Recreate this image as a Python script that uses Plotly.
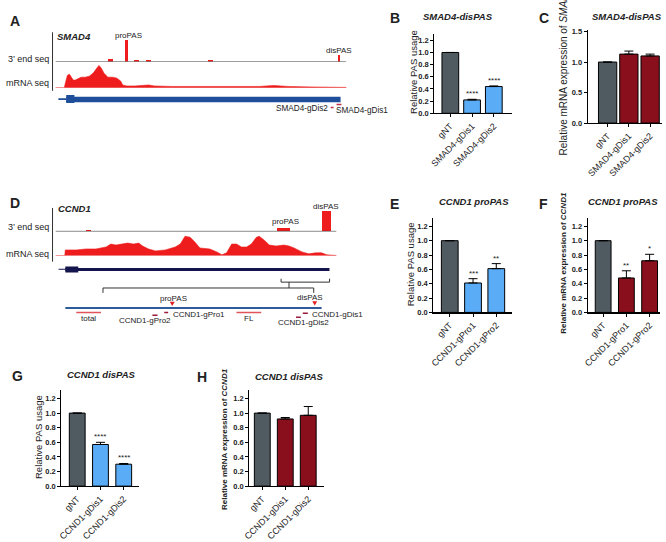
import plotly.graph_objects as go

W, H = 666, 542
def fx(p): return p / W
def fy(p): return 1 - p / H

FONT = "Liberation Sans, Arial, sans-serif"
GRAY = "#4f5b61"
BLUE = "#5aacf7"
DRED = "#8a0f1c"
TRACK = "#ee1c1c"

# ---------------- bar chart data ----------------
b_labels = ["gNT", "SMAD4-gDis1", "SMAD4-gDis2"]
b_vals = [1.0, 0.22, 0.44]
b_err = [0.0, 0.01, 0.01]
b_stars = ["", "****", "****"]

c_labels = ["gNT", "SMAD4-gDis1", "SMAD4-gDis2"]
c_vals = [1.0, 1.13, 1.10]
c_err = [0.0, 0.05, 0.03]
c_stars = ["", "", ""]

e_labels = ["gNT", "CCND1-gPro1", "CCND1-gPro2"]
e_vals = [1.0, 0.41, 0.61]
e_err = [0.0, 0.06, 0.07]
e_stars = ["", "***", "**"]

f_labels = ["gNT", "CCND1-gPro1", "CCND1-gPro2"]
f_vals = [1.0, 0.48, 0.72]
f_err = [0.0, 0.10, 0.09]
f_stars = ["", "**", "*"]

g_labels = ["gNT", "CCND1-gDis1", "CCND1-gDis2"]
g_vals = [1.0, 0.57, 0.30]
g_err = [0.0, 0.03, 0.01]
g_stars = ["", "****", "****"]

h_labels = ["gNT", "CCND1-gDis1", "CCND1-gDis2"]
h_vals = [1.0, 0.92, 0.97]
h_err = [0.0, 0.02, 0.12]
h_stars = ["", "", ""]

# ---------------- genome track data (relative genomic position 0-100) ----------------
smad4_peak_pos = [18.9, 24.3, 28.0, 32.1, 53.2, 97.6]
smad4_peak_w = [1.7, 1.0, 1.7, 1.7, 1.7, 0.7]
smad4_peak_h = [3, 22, 2, 2, 2, 7]

smad4_cov_pos = [0, 3.0, 3.4, 4.1, 4.8, 5.4, 6.1, 6.8, 7.5, 8.8, 10.2, 11.6, 12.9, 14.3, 14.9,
                 15.6, 16.7, 18.0, 19.7, 21.1, 22.4, 23.1, 24.5, 27.2, 30.6, 32.0, 34.0, 40, 50,
                 60, 62, 65, 70, 75, 77, 80, 88, 95, 100]
smad4_cov_val = [0, 0, 5, 13, 14, 11, 8, 8, 9, 11, 11, 12, 15, 21, 23,
                 21, 15, 11, 11, 10, 7, 3, 2, 2, 2.5, 3, 2, 1.5, 1.5,
                 1.5, 2, 1.5, 1.5, 2.5, 2, 1.5, 1, 1, 0.5]

ccnd1_peak_pos = [11.8, 36.0, 49.0, 58.0, 81.2, 96.3]
ccnd1_peak_w = [1.8, 4.0, 3.0, 3.0, 4.6, 3.2]
ccnd1_peak_h = [1, 0.6, 0.6, 0.6, 3, 21]

ccnd1_cov_pos = [0, 3.3, 3.5, 7.4, 10.9, 14.4, 18.0, 19.7, 21.5, 24.3, 25.7, 27.8, 29.6, 31.0,
                 33.1, 35.6, 39.1, 42.6, 44.4, 46.1, 47.9, 49.6, 51.4, 54.9, 57.4, 59.2, 60.9,
                 62.7, 64.4, 66.2, 68.0, 69.7, 71.5, 72.5, 74.3, 76.1, 78.5, 81.3, 83.1, 84.9,
                 87.7, 90.1, 92.6, 94.7, 96.5, 100]
ccnd1_cov_val = [0, 0, 6, 6, 7, 7, 9, 12, 11, 12, 13, 12, 13, 10,
                 7, 5, 6, 9, 12, 20, 19, 14, 8, 7, 4, 1, 3,
                 12, 12, 9, 9, 12, 19, 20, 16, 11, 10, 11, 10, 8,
                 4, 2, 3, 3, 1, 0.3]

feat_names = ["total", "CCND1-gPro2", "CCND1-gPro1", "FL", "CCND1-gDis2", "CCND1-gDis1"]
feat_start = [7.4, 34.5, 38.7, 64.4, 85.6, 88.0]
feat_end = [16.2, 36.3, 40.1, 73.2, 87.3, 89.8]

smad4_guides = ["SMAD4-gDis2", "SMAD4-gDis1"]
smad4_guide_start = [94.6, 96.6]
smad4_guide_end = [95.6, 98.3]

fig = go.Figure()
annotations = []
shapes = []
layout = {}

def ann(text, x, y, size=10, xanchor="center", yanchor="middle", xref="paper", yref="paper",
        angle=0, color="#222", xshift=0, yshift=0):
    annotations.append(dict(text=text, x=x, y=y, xref=xref, yref=yref, showarrow=False,
                            xanchor=xanchor, yanchor=yanchor, textangle=angle, xshift=xshift,
                            yshift=yshift, borderpad=0,
                            font=dict(family=FONT, size=size, color=color)))

def tri_down(xc, yc, color="#e02020"):
    shapes.append(dict(type="path", xref="paper", yref="paper",
                       path=f"M{fx(xc-2.5):.6f},{fy(yc-2):.6f} L{fx(xc+2.5):.6f},{fy(yc-2):.6f} "
                            f"L{fx(xc):.6f},{fy(yc+2.5):.6f} Z",
                       fillcolor=color, line=dict(width=0)))

# ---------------- bar panels ----------------
panels = [
    dict(n=1, labels=b_labels, vals=b_vals, err=b_err, stars=b_stars, col=[GRAY, BLUE, BLUE],
         xpx=(432, 510), xr=[-0.73, 2.82], ypx=(32, 113), yr=[0, 1.3], dt=0.2, w=0.77),
    dict(n=2, labels=c_labels, vals=c_vals, err=c_err, stars=c_stars, col=[GRAY, DRED, DRED],
         xpx=(587, 662), xr=[-0.93, 2.56], ypx=(28, 123), yr=[0, 1.52], dt=0.5, w=0.86),
    dict(n=3, labels=e_labels, vals=e_vals, err=e_err, stars=e_stars, col=[GRAY, BLUE, BLUE],
         xpx=(431, 510), xr=[-0.70, 2.66], ypx=(220, 317), yr=[0, 1.32], dt=0.2, w=0.72),
    dict(n=4, labels=f_labels, vals=f_vals, err=f_err, stars=f_stars, col=[GRAY, DRED, DRED],
         xpx=(587, 660), xr=[-0.66, 2.45], ypx=(220, 317), yr=[0, 1.32], dt=0.2, w=0.68),
    dict(n=5, labels=g_labels, vals=g_vals, err=g_err, stars=g_stars, col=[GRAY, BLUE, BLUE],
         xpx=(55, 133), xr=[-0.68, 2.64], ypx=(397, 495), yr=[0, 1.31], dt=0.2, w=0.68),
    dict(n=6, labels=h_labels, vals=h_vals, err=h_err, stars=h_stars, col=[GRAY, DRED, DRED],
         xpx=(245, 320), xr=[-0.56, 2.67], ypx=(397, 495), yr=[0, 1.31], dt=0.2, w=0.69),
]

for p in panels:
    n = p["n"]
    xs = "" if n == 1 else str(n)
    xref, yref = "x" + xs, "y" + xs
    idx = list(range(len(p["vals"])))
    fig.add_trace(go.Bar(
        x=idx, y=p["vals"], width=p["w"], xaxis=xref, yaxis=yref,
        marker=dict(color=p["col"], line=dict(color="black", width=1)),
        error_y=dict(type="data", symmetric=False, array=p["err"], arrayminus=[0] * len(idx),
                     color="black", thickness=1, width=4.5),
        hoverinfo="skip"))
    layout["xaxis" + xs] = dict(
        domain=[fx(p["xpx"][0]), fx(p["xpx"][1])], range=p["xr"], anchor=yref,
        tickmode="array", tickvals=idx, ticktext=p["labels"], tickangle=-45,
        showline=True, linecolor="black", linewidth=1.2, ticks="outside", ticklen=3,
        tickcolor="black", showgrid=False, zeroline=False,
        tickfont=dict(family=FONT, size=9, color="#222"))
    layout["yaxis" + xs] = dict(
        domain=[fy(p["ypx"][1]), fy(p["ypx"][0])], range=p["yr"], anchor=xref,
        dtick=p["dt"], tickformat=".1f", showline=True, linecolor="black", linewidth=1.2,
        ticks="outside", ticklen=3, tickcolor="black", showgrid=False, zeroline=False,
        tickfont=dict(family=FONT, size=7.5, color="#222", weight="bold"))
    for i, s in enumerate(p["stars"]):
        if s:
            ann(s, i, p["vals"][i] + p["err"][i], size=8, xref=xref, yref=yref,
                yanchor="bottom", yshift=0)

# ---------------- genome tracks ----------------
layout["xaxis7"] = dict(domain=[fx(49), fx(343)], range=[0, 100], anchor="y7", visible=False)
layout["yaxis7"] = dict(domain=[fy(60), fy(30)], range=[0, 30], anchor="x7", visible=False)
layout["yaxis8"] = dict(domain=[fy(87), fy(62)], range=[0, 25], anchor="x7", visible=False)
layout["xaxis8"] = dict(domain=[fx(49), fx(333)], range=[0, 100], anchor="y9", visible=False)
layout["yaxis9"] = dict(domain=[fy(234), fy(204)], range=[0, 30], anchor="x8", visible=False)
layout["yaxis10"] = dict(domain=[fy(259), fy(235)], range=[0, 24], anchor="x8", visible=False)

fig.add_trace(go.Bar(x=smad4_peak_pos, y=smad4_peak_h, width=smad4_peak_w, xaxis="x7", yaxis="y7",
                     marker=dict(color=TRACK, line=dict(width=0)), hoverinfo="skip"))
fig.add_trace(go.Scatter(x=smad4_cov_pos, y=smad4_cov_val, xaxis="x7", yaxis="y8", mode="lines",
                         line=dict(color=TRACK, width=0.6), fill="tozeroy", fillcolor=TRACK,
                         hoverinfo="skip"))
fig.add_trace(go.Bar(x=ccnd1_peak_pos, y=ccnd1_peak_h, width=ccnd1_peak_w, xaxis="x8", yaxis="y9",
                     marker=dict(color=TRACK, line=dict(width=0)), hoverinfo="skip"))
fig.add_trace(go.Scatter(x=ccnd1_cov_pos, y=ccnd1_cov_val, xaxis="x8", yaxis="y10", mode="lines",
                         line=dict(color=TRACK, width=0.6), fill="tozeroy", fillcolor=TRACK,
                         hoverinfo="skip"))

# baselines
shapes.append(dict(type="line", xref="x7", yref="y7", x0=0, x1=100, y0=0, y1=0,
                   line=dict(color="#333", width=1)))
shapes.append(dict(type="line", xref="x7", yref="y8", x0=0, x1=100, y0=0, y1=0,
                   line=dict(color="#f08080", width=1)))
shapes.append(dict(type="line", xref="x8", yref="y9", x0=0, x1=100, y0=0, y1=0,
                   line=dict(color="#333", width=1)))
shapes.append(dict(type="line", xref="x8", yref="y10", x0=0, x1=100, y0=0, y1=0,
                   line=dict(color="#f08080", width=1)))
# track separators
shapes.append(dict(type="line", xref="paper", yref="paper", x0=fx(46), x1=fx(46), y0=fy(30), y1=fy(90),
                   line=dict(color="#333", width=1)))
shapes.append(dict(type="line", xref="paper", yref="paper", x0=fx(46), x1=fx(46), y0=fy(210), y1=fy(265),
                   line=dict(color="#333", width=1)))

# gene models
SM_BLUE = "#1f4e9a"
shapes.append(dict(type="rect", xref="x7", yref="paper", x0=1.0, x1=3.7, y0=fy(99.3), y1=fy(97.7),
                   fillcolor=SM_BLUE, line=dict(width=0)))
shapes.append(dict(type="rect", xref="x7", yref="paper", x0=3.7, x1=98.0, y0=fy(101.7), y1=fy(96),
                   fillcolor=SM_BLUE, line=dict(width=0)))
shapes.append(dict(type="rect", xref="x7", yref="paper", x0=3.7, x1=6.5, y0=fy(102.5), y1=fy(94.3),
                   fillcolor=SM_BLUE, line=dict(width=0)))
CC_NAVY = "#15154d"
shapes.append(dict(type="rect", xref="x8", yref="paper", x0=1.1, x1=3.5, y0=fy(273.3), y1=fy(272.3),
                   fillcolor=CC_NAVY, line=dict(width=0)))
shapes.append(dict(type="rect", xref="x8", yref="paper", x0=3.5, x1=97.5, y0=fy(274.5), y1=fy(271.5),
                   fillcolor=CC_NAVY, line=dict(width=0)))
shapes.append(dict(type="rect", xref="x8", yref="paper", x0=3.5, x1=8.1, y0=fy(276), y1=fy(270),
                   fillcolor=CC_NAVY, line=dict(width=0)))

# SMAD4 guides
for name, s, e, ypx, lx, anc, ly in zip(smad4_guides, smad4_guide_start, smad4_guide_end,
                                       [107, 104], [94.0, 96.0], ["right", "left"], [108, 110.5]):
    shapes.append(dict(type="line", xref="x7", yref="paper", x0=s, x1=e, y0=fy(ypx), y1=fy(ypx),
                       line=dict(color="#c0304a", width=1.5)))
    ann(name, lx, fy(ly), size=8.2, xref="x7", xanchor=anc)

# CCND1 lower diagram
LBLUE = "#2e5b9a"
shapes.append(dict(type="line", xref="x8", yref="paper", x0=3.5, x1=94.7, y0=fy(312.5), y1=fy(312.5),
                   line=dict(color=LBLUE, width=2)))
# brackets
shapes.append(dict(type="path", xref="paper", yref="paper",
                   path=f"M{fx(97):.6f},{fy(297):.6f} L{fx(97):.6f},{fy(292):.6f} "
                        f"L{fx(310):.6f},{fy(292):.6f} L{fx(310):.6f},{fy(297):.6f}",
                   line=dict(color="#333", width=1)))
shapes.append(dict(type="line", xref="x8", yref="paper", x0=83.1, x1=83.1, y0=fy(292), y1=fy(286),
                   line=dict(color="#333", width=1)))
shapes.append(dict(type="path", xref="paper", yref="paper",
                   path=f"M{fx(277):.6f},{fy(282.5):.6f} L{fx(277):.6f},{fy(286):.6f} "
                        f"L{fx(326):.6f},{fy(286):.6f} L{fx(326):.6f},{fy(282.5):.6f}",
                   line=dict(color="#333", width=1)))

feat_style = {
    "total": dict(y=317, color="#e0555a", lx=None, ly=323.5, anc="center"),
    "CCND1-gPro2": dict(y=320, color="#9b1b3a", lx=139, ly=325.5, anc="center"),
    "CCND1-gPro1": dict(y=317, color="#9b1b3a", lx=167, ly=319.5, anc="left"),
    "FL": dict(y=317, color="#e0555a", lx=None, ly=323.5, anc="center"),
    "CCND1-gDis2": dict(y=322, color="#9b1b3a", lx=300, ly=327.5, anc="center"),
    "CCND1-gDis1": dict(y=318, color="#9b1b3a", lx=307, ly=319.5, anc="left"),
}
for name, s, e in zip(feat_names, feat_start, feat_end):
    st = feat_style[name]
    shapes.append(dict(type="line", xref="x8", yref="paper", x0=s, x1=e, y0=fy(st["y"]), y1=fy(st["y"]),
                       line=dict(color=st["color"], width=1.5)))
    if st["lx"] is None:
        ann(name, (s + e) / 2, fy(st["ly"]), size=8, xref="x8", xanchor="center")
    else:
        ann(name, fx(st["lx"]), fy(st["ly"]), size=8, xanchor=st["anc"])

# PAS markers on lower diagram
tri_down(167, 308)
ann("proPAS", fx(168), fy(302.5), size=8)
tri_down(311, 307.5)
ann("disPAS", fx(306), fy(302), size=8)

# track labels
ann("<b>A</b>", fx(2), fy(18), size=14, xanchor="left")
ann("<b><i>SMAD4</i></b>", fx(50), fy(34), size=9.5, xanchor="left")
ann("3’ end seq", fx(43), fy(57), size=9, xanchor="right")
ann("mRNA seq", fx(43), fy(82), size=9, xanchor="right")
ann("proPAS", 25.2, fy(33), size=8, xref="x7")
ann("disPAS", 97.6, fy(49), size=8, xref="x7")

ann("<b>D</b>", fx(2), fy(205), size=14, xanchor="left")
ann("<b><i>CCND1</i></b>", fx(51), fy(211), size=9.5, xanchor="left")
ann("3’ end seq", fx(43), fy(230), size=9, xanchor="right")
ann("mRNA seq", fx(43), fy(257), size=9, xanchor="right")
ann("proPAS", 81.7, fy(224), size=8, xref="x8")
ann("disPAS", 96.1, fy(208), size=8, xref="x8")

# panel letters and titles
for t, x, y in [("B", 386, 15), ("C", 537, 15), ("E", 386, 206), ("F", 537, 206),
                ("G", 4, 382), ("H", 191, 383)]:
    ann(f"<b>{t}</b>", fx(x), fy(y), size=14, xanchor="left")
for t, x, y in [("SMAD4-disPAS", 456, 14), ("SMAD4-disPAS", 627, 14), ("CCND1 proPAS", 472, 203),
                ("CCND1 proPAS", 623, 203), ("CCND1 disPAS", 95, 381), ("CCND1 disPAS", 285, 383)]:
    ann(f"<b><i>{t}</i></b>", fx(x), fy(y), size=9.5)

# y titles
ann("Relative PAS usage", fx(411), fy(71), size=9.5, angle=-90)
ann("Relative mRNA expression of <i>SMAD4</i>", fx(562), fy(70), size=10, angle=-90)
ann("Relative PAS usage", fx(408), fy(268), size=9.5, angle=-90)
ann("<b>Relative mRNA expression of <i>CCND1</i></b>", fx(563), fy(266), size=8, angle=-90)
ann("Relative PAS usage", fx(32), fy(445), size=9.5, angle=-90)
ann("<b>Relative mRNA expression of <i>CCND1</i></b>", fx(220), fy(447), size=8, angle=-90)

fig.update_layout(
    width=W, height=H, margin=dict(l=0, r=0, t=0, b=0, pad=0),
    paper_bgcolor="white", plot_bgcolor="rgba(0,0,0,0)", showlegend=False,
    font=dict(family=FONT, size=10, color="#222"),
    annotations=annotations, shapes=shapes, bargap=0, **layout)

fig.write_html("out.html", config={"displayModeBar": False, "staticPlot": True},
               post_script="document.body.style.margin='0';document.body.style.overflow='hidden';")
